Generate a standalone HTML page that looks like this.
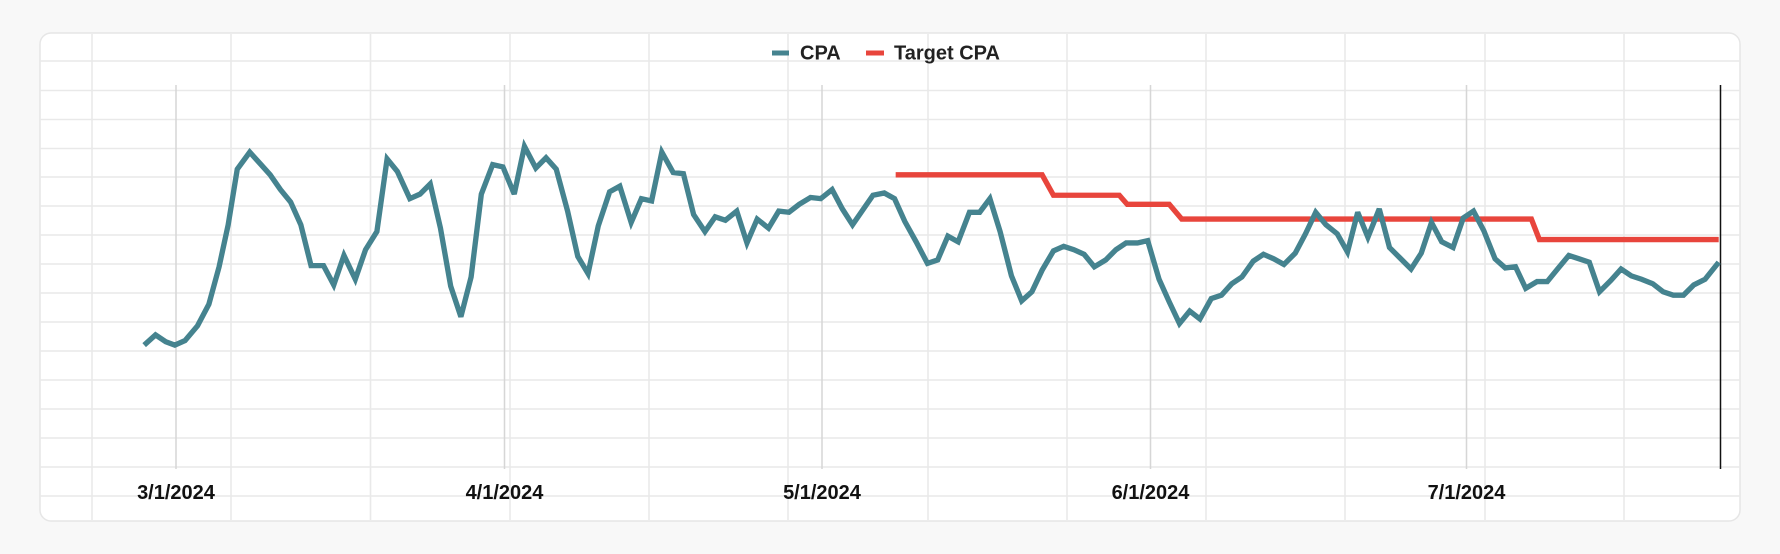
<!DOCTYPE html>
<html><head><meta charset="utf-8"><style>
html,body{margin:0;padding:0;background:#f8f8f8;}
svg{display:block;font-family:"Liberation Sans",Arial,sans-serif;}
</style></head><body>
<svg width="1780" height="554" viewBox="0 0 1780 554" xmlns="http://www.w3.org/2000/svg">
<rect x="0" y="0" width="1780" height="554" fill="#f8f8f8"/>
<rect x="40" y="33" width="1700" height="488" rx="11" fill="#ffffff" stroke="#e6e6e6" stroke-width="1.5"/>
<g stroke="#e9e9e9" stroke-width="1.6">
<line x1="40" x2="1740" y1="61" y2="61"/><line x1="40" x2="1740" y1="90.5" y2="90.5"/>
<line x1="40" x2="1740" y1="119.5" y2="119.5"/><line x1="40" x2="1740" y1="148.5" y2="148.5"/>
<line x1="40" x2="1740" y1="177" y2="177"/><line x1="40" x2="1740" y1="206" y2="206"/>
<line x1="40" x2="1740" y1="235" y2="235"/><line x1="40" x2="1740" y1="264" y2="264"/>
<line x1="40" x2="1740" y1="293" y2="293"/><line x1="40" x2="1740" y1="322" y2="322"/>
<line x1="40" x2="1740" y1="351" y2="351"/><line x1="40" x2="1740" y1="380" y2="380"/>
<line x1="40" x2="1740" y1="409" y2="409"/><line x1="40" x2="1740" y1="438" y2="438"/>
<line x1="40" x2="1740" y1="467" y2="467"/><line x1="40" x2="1740" y1="496" y2="496"/>
<line x1="92" x2="92" y1="34" y2="520"/><line x1="231" x2="231" y1="34" y2="520"/>
<line x1="370.5" x2="370.5" y1="34" y2="520"/><line x1="510" x2="510" y1="34" y2="520"/>
<line x1="649" x2="649" y1="34" y2="520"/><line x1="788" x2="788" y1="34" y2="520"/>
<line x1="928" x2="928" y1="34" y2="520"/><line x1="1067" x2="1067" y1="34" y2="520"/>
<line x1="1206" x2="1206" y1="34" y2="520"/><line x1="1345" x2="1345" y1="34" y2="520"/>
<line x1="1485" x2="1485" y1="34" y2="520"/><line x1="1624" x2="1624" y1="34" y2="520"/>
</g>
<g stroke="#d6d6d6" stroke-width="1.5">
<line x1="176" x2="176" y1="85" y2="469"/><line x1="504.5" x2="504.5" y1="85" y2="469"/>
<line x1="822" x2="822" y1="85" y2="469"/><line x1="1150.5" x2="1150.5" y1="85" y2="469"/>
<line x1="1466.5" x2="1466.5" y1="85" y2="469"/>
</g>
<line x1="1720.5" x2="1720.5" y1="85" y2="469" stroke="#111" stroke-width="1.5"/>
<g font-size="20" font-weight="bold" fill="#111" text-anchor="middle">
<text x="176" y="499">3/1/2024</text><text x="504.5" y="499">4/1/2024</text>
<text x="822" y="499">5/1/2024</text><text x="1150.5" y="499">6/1/2024</text>
<text x="1466.5" y="499">7/1/2024</text>
</g>
<rect x="772" y="50.5" width="17" height="5" fill="#45838f"/>
<text x="800" y="59.5" font-size="20" font-weight="bold" fill="#222">CPA</text>
<rect x="866" y="50.5" width="18" height="5" fill="#e8453c"/>
<text x="894" y="59.5" font-size="20" font-weight="bold" fill="#222">Target CPA</text>
<g transform="scale(1.1352)" fill="none" stroke-width="4.7" stroke-linejoin="miter" stroke-miterlimit="3">
<polyline stroke="#e8453c" points="789,154 918,154 928,172 986,172 993,180 1030,180 1041,193 1349,193 1356,211 1514,211"/>
<polyline stroke="#45838f" points="127,304 137,295 146,301 154,304 163,300 174,287 184,268 193,235 201,198 209,149 220,134 229,144 238,154 247,167 256,178 265,198 274,234 285,234 294,251 303,225 313,246 322,220 332,204 341,140 350,151 361,175 370,171 379,162 388,201 397,252 406,279 415,244 424,171 434,145 443,147 453,171 462,129 472,148 481,139 490,149 500,186 509,226 518,241 527,199 537,169 546,164 556,196 565,175 574,177 583,134 593,152 602,153 611,189 621,204 630,191 639,194 649,186 658,214 667,193 677,201 686,186 695,187 704,180 714,174 723,175 733,167 742,184 751,198 760,185 769,172 779,170 788,175 797,195 807,213 817,232 826,229 835,208 844,213 854,187 863,187 872,175 881,204 891,243 900,265 909,257 918,238 928,221 937,217 946,220 955,224 964,235 974,229 983,220 992,214 1002,214 1011,212 1021,246 1030,266 1039,285 1048,274 1057,281 1067,263 1076,260 1085,250 1094,244 1104,230 1113,224 1122,228 1131,233 1141,223 1150,206 1159,187 1168,198 1178,206 1187,222 1196,187 1205,209 1215,184 1224,218 1233,227 1243,237 1252,223 1261,196 1270,213 1280,218 1289,192 1298,186 1307,203 1317,228 1326,236 1335,235 1344,254 1354,248 1363,248 1372,237 1382,225 1391,228 1400,231 1409,257 1419,247 1428,237 1437,243 1446,246 1456,250 1465,257 1474,260 1483,260 1492,251 1502,246 1514,231"/>
</g>
</svg>
</body></html>
